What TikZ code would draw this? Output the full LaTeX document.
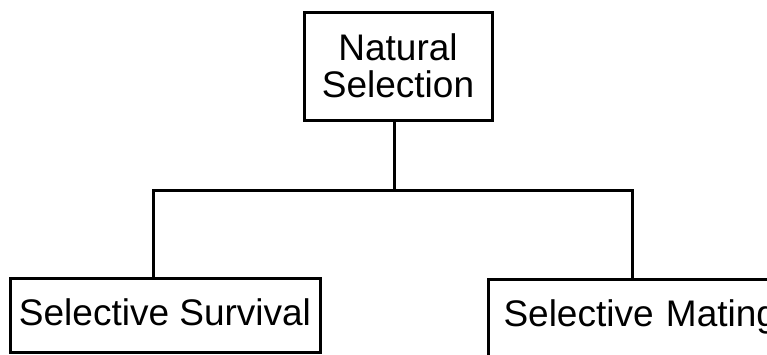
\documentclass[tikz,border=0pt]{standalone}
\usepackage{fontspec}
\setmainfont{Liberation Sans}
\begin{document}
\begin{tikzpicture}[x=1pt,y=-1pt,
  box/.style={draw, line width=3pt, rectangle, inner sep=0pt, font=\fontsize{37}{37}\selectfont},
  conn/.style={line width=3pt}]
\useasboundingbox (0,0) rectangle (767,354);
\clip (0,0) rectangle (767,354);
\node[box, minimum width=188pt, minimum height=108pt, align=center] (ns) at (398,66) {Natural\\Selection};
\node[box, minimum width=310pt, minimum height=74pt, text height=27pt, text depth=7pt] (ss) at (165,315) {Selective Survival};
\node[box, anchor=north west, minimum width=330pt, minimum height=94pt, text width=300pt, align=left, text height=20pt, text depth=20pt] (sm) at (487,278) {Selective Mating};
\coordinate (j) at (394,190);
\coordinate (jl) at (153,190);
\coordinate (jr) at (632,190);
\draw[conn] (ns.south -| j) -- (j);
\draw[conn] (ss.north -| jl) -- (jl) -- (jr) -- (sm.north -| jr);
\end{tikzpicture}
\end{document}
